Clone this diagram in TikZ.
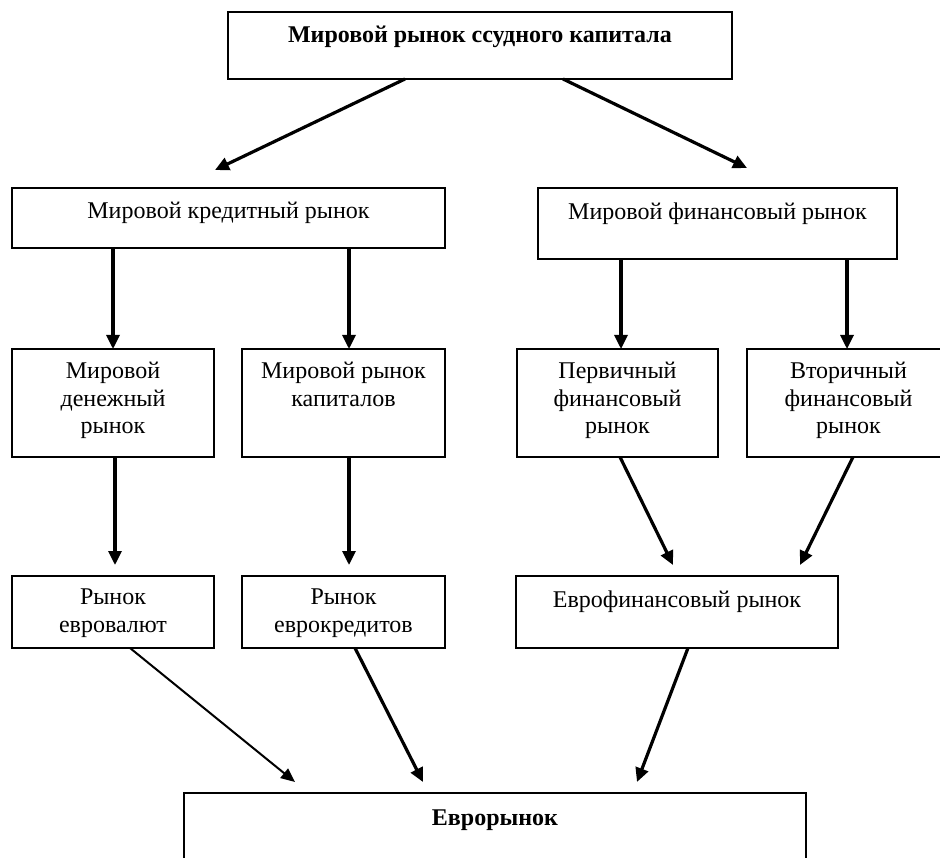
\documentclass[tikz,border=0pt]{standalone}
\usepackage{fontspec}
\setmainfont{Liberation Serif}
\usetikzlibrary{arrows.meta,calc}
\begin{document}
\begin{tikzpicture}[x=1pt,y=-1pt,
  box/.style={draw, line width=2pt, inner sep=0pt, outer sep=0pt, anchor=north west},
  lbl/.style={anchor=north, inner sep=0pt, align=center, font=\fontsize{24}{27.5}\selectfont, execute at begin node=\strut},
  blbl/.style={lbl, font=\fontsize{24}{27.5}\selectfont\bfseries},
  arr/.style={line width=3.2pt, -{Triangle[length=14pt,width=13pt]}},
  thinarr/.style={line width=2pt, -{Triangle[length=14pt,width=12pt]}}]
\useasboundingbox (0,0) rectangle (940,858);
\clip (0,0) rectangle (940,858);
\fill[white] (0,0) rectangle (940,858);

% boxes
\node[box, minimum width=504pt, minimum height=67pt] (top) at (228,12) {};
\node[box, minimum width=433pt, minimum height=60pt] (kred) at (12,188) {};
\node[box, minimum width=359pt, minimum height=71pt] (fin) at (538,188) {};
\node[box, minimum width=202pt, minimum height=108pt] (den) at (12,349) {};
\node[box, minimum width=203pt, minimum height=108pt] (kap) at (242,349) {};
\node[box, minimum width=201pt, minimum height=108pt] (perv) at (517,349) {};
\node[box, minimum width=203pt, minimum height=108pt] (vtor) at (747,349) {};
\node[box, minimum width=202pt, minimum height=72pt] (eval) at (12,576) {};
\node[box, minimum width=203pt, minimum height=72pt] (ekred) at (242,576) {};
\node[box, minimum width=322pt, minimum height=72pt] (efin) at (516,576) {};
\node[box, minimum width=622pt, minimum height=110pt] (euro) at (184,793) {};

% labels
\node[blbl] (top-t) at ($(top.north)+(0,11)$) {Мировой рынок ссудного капитала};
\node[lbl] (kred-t) at ($(kred.north)+(0,11)$) {Мировой кредитный рынок};
\node[lbl] (fin-t) at ($(fin.north)+(0,12)$) {Мировой финансовый рынок};
\node[lbl] (den-t) at ($(den.north)+(0,13)$) {Мировой\\денежный\\рынок};
\node[lbl] (kap-t) at ($(kap.north)+(0,13)$) {Мировой рынок\\капиталов};
\node[lbl] (perv-t) at ($(perv.north)+(0,13)$) {Первичный\\финансовый\\рынок};
\node[lbl] (vtor-t) at ($(vtor.north)+(0,13)$) {Вторичный\\финансовый\\рынок};
\node[lbl] (eval-t) at ($(eval.north)+(0,13)$) {Рынок\\евровалют};
\node[lbl] (ekred-t) at ($(ekred.north)+(0,13)$) {Рынок\\еврокредитов};
\node[lbl] (efin-t) at ($(efin.north)+(0,12)$) {Еврофинансовый рынок};
\node[blbl] (euro-t) at ($(euro.north)+(0,13)$) {Еврорынок};

% connectors
\draw[arr] ($(top.south west)+(177,0)$) -- ($(kred.north west)+(203,-18)$);
\draw[arr] ($(top.south west)+(335,0)$) -- ($(fin.north west)+(209,-20)$);
\draw[arr] ($(kred.south west)+(101,0)$) -- ($(den.north west)+(101,0)$);
\draw[arr] ($(kred.south west)+(337,0)$) -- ($(kap.north west)+(107,0)$);
\draw[arr] ($(fin.south west)+(83,0)$) -- ($(perv.north west)+(104,0)$);
\draw[arr] ($(fin.south west)+(309,0)$) -- ($(vtor.north west)+(100,0)$);
\draw[arr] ($(den.south west)+(103,0)$) -- ($(eval.north west)+(103,-11)$);
\draw[arr] ($(kap.south west)+(107,0)$) -- ($(ekred.north west)+(107,-11)$);
\draw[arr] ($(perv.south west)+(103,0)$) -- ($(efin.north west)+(157,-11)$);
\draw[arr] ($(vtor.south west)+(106,0)$) -- ($(efin.north west)+(284,-11)$);
\draw[thinarr] ($(eval.south west)+(118,0)$) -- ($(euro.north west)+(111,-11)$);
\draw[arr] ($(ekred.south west)+(113,0)$) -- ($(euro.north west)+(239,-11)$);
\draw[arr] ($(efin.south west)+(172,0)$) -- ($(euro.north west)+(453,-11)$);
\end{tikzpicture}
\end{document}
